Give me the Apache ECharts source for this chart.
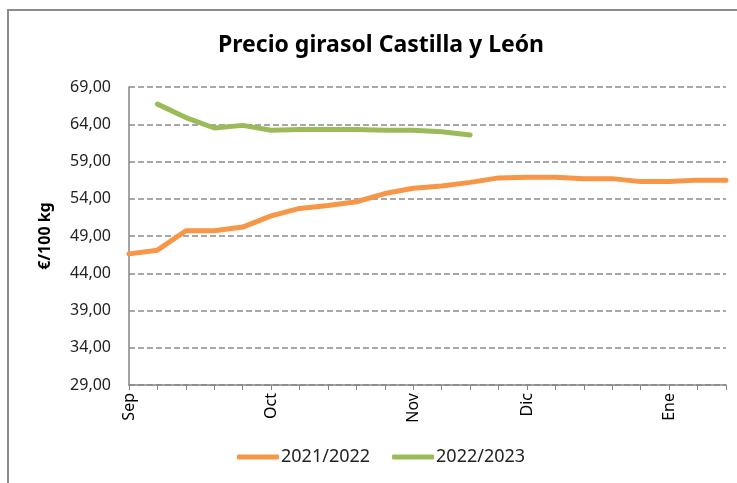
<!DOCTYPE html>
<html>
<head>
<meta charset="utf-8">
<script src="https://cdn.jsdelivr.net/npm/echarts@6/dist/echarts.min.js"></script>
<style>
  html, body { margin: 0; padding: 0; background: #fff; }
  #chart { width: 737px; height: 483px; }
</style>
</head>
<body>
<div id="chart"></div>
<script>
// semanas de campaña (solo se rotula el inicio de cada mes)
const weeks = ['Sep', '', '', '', '', 'Oct', '', '', '', '', 'Nov', '', '', '', 'Dic', '', '', '', '', 'Ene', '', '']

// precios €/100 kg
const season2122 = [46.6, 47.1, 49.7, 49.7, 50.2, 51.7, 52.7, 53.1, 53.6, 54.7, 55.4, 55.7,
  56.2, 56.8, 56.9, 56.9, 56.7, 56.7, 56.3, 56.3, 56.5, 56.5]
const season2223 = [null, 66.7, 64.9, 63.5, 63.85, 63.2, 63.3, 63.3, 63.3, 63.2, 63.2, 63.0, 62.55]

const yTicks = { min: 29, max: 69, interval: 5 }

const chart = echarts.init(document.getElementById('chart'))

const font = 'Noto Sans'

chart.setOption({
  animation: false,
  title: {
    text: 'Precio girasol Castilla y León',
    left: 376,
    top: 29,
    textAlign: 'center',
    textStyle: { fontFamily: font, fontSize: 23, fontWeight: 'bold', color: '#000' }
  },
  graphic: [
    {
      type: 'rect',
      shape: { x: 8, y: 10, width: 800, height: 600 },
      style: { fill: 'none', stroke: '#8c8c8c', lineWidth: 2 },
      silent: true
    }
  ],
  legend: {
    bottom: 12,
    left: 232,
    itemWidth: 42,
    itemHeight: 5,
    itemGap: 22,
    icon: 'roundRect',
    textStyle: { fontFamily: font, fontSize: 18, color: '#222', padding: [0, 0, 0, -3] },
    data: ['2021/2022', '2022/2023']
  },
  grid: { left: 129, right: 11, top: 87, bottom: 98 },
  xAxis: {
    type: 'category',
    data: weeks,
    boundaryGap: false,
    axisLine: { lineStyle: { color: '#868686', width: 1.5 } },
    axisTick: { show: true, interval: 0, length: 5, lineStyle: { color: '#868686' } },
    axisLabel: {
      interval: 0,
      rotate: 90,
      margin: 8,
      fontFamily: font,
      fontSize: 16,
      color: '#000'
    },
    splitLine: { show: false }
  },
  yAxis: {
    type: 'value',
    min: yTicks.min,
    max: yTicks.max,
    interval: yTicks.interval,
    name: '€/100 kg',
    nameLocation: 'middle',
    nameGap: 76,
    nameTextStyle: { fontFamily: font, fontSize: 16, fontWeight: 'bold', color: '#000' },
    axisLine: { show: true, lineStyle: { color: '#868686', width: 1.5 } },
    axisTick: { show: false },
    axisLabel: {
      margin: 18,
      fontFamily: font,
      fontSize: 16,
      color: '#222',
      formatter: v => v.toFixed(2).replace('.', ',')
    },
    splitLine: { lineStyle: { color: '#8c8c8c', type: [6, 3], width: 1.5 } }
  },
  series: [
    {
      name: '2021/2022',
      type: 'line',
      data: season2122,
      showSymbol: false,
      lineStyle: { width: 5, color: '#F79646', cap: 'round' },
      itemStyle: { color: '#F79646' }
    },
    {
      name: '2022/2023',
      type: 'line',
      data: season2223,
      showSymbol: false,
      lineStyle: { width: 5, color: '#9BBB59', cap: 'round' },
      itemStyle: { color: '#9BBB59' }
    }
  ]
})
</script>
</body>
</html>
